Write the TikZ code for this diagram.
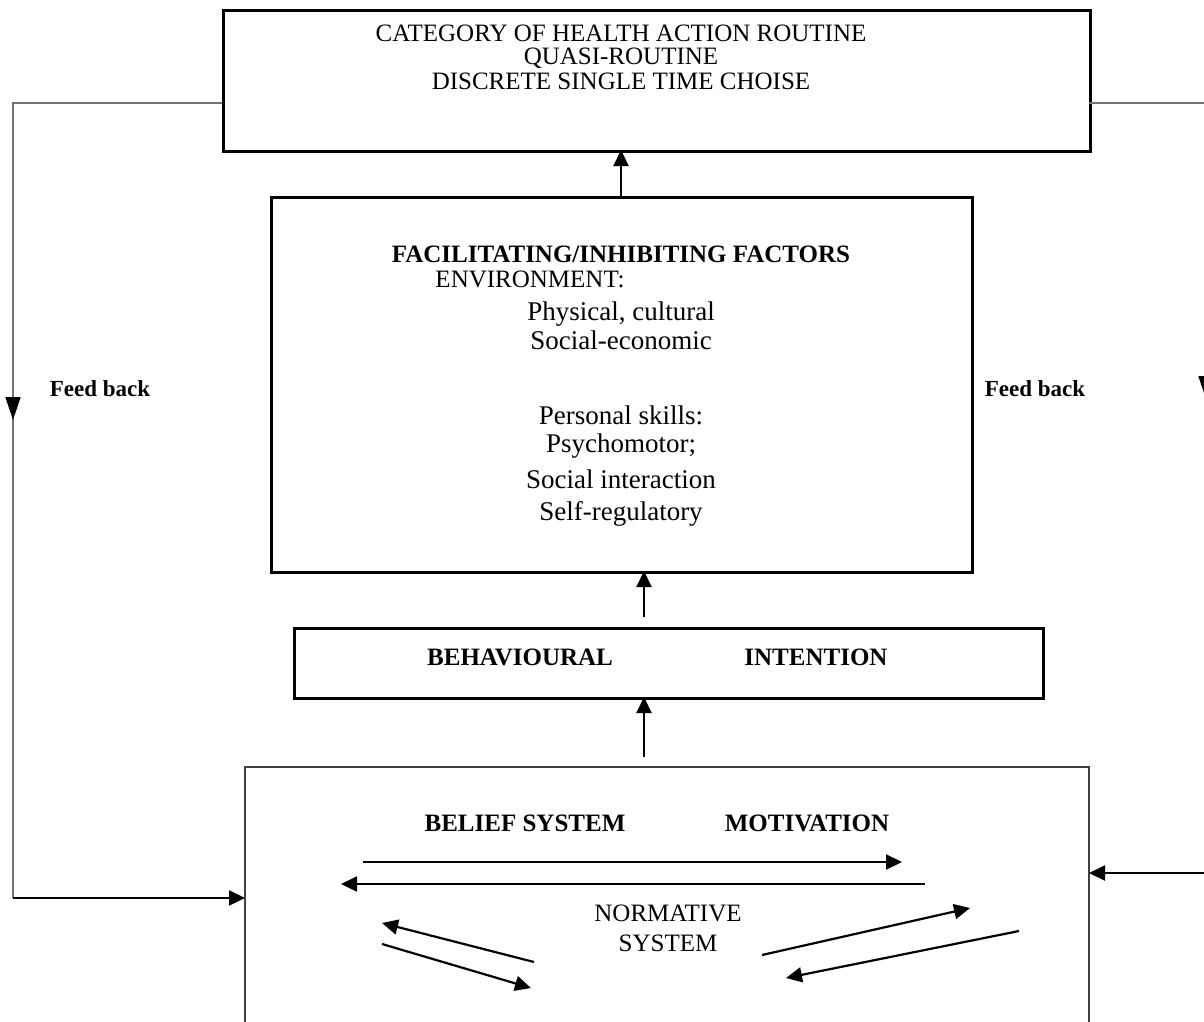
\documentclass[tikz,border=0pt]{standalone}
\usepackage{fontspec}
\setmainfont{Liberation Serif}
\usetikzlibrary{arrows.meta}
\begin{document}
\begin{tikzpicture}[x=1pt,y=-1pt,
  thickbox/.style={draw=black,line width=2.8pt,inner sep=0pt,anchor=north west},
  thinbox/.style={draw=black!75,line width=1.1pt},
  fbline/.style={draw=black!55,line width=1.6pt},
  arr/.style={draw=black,line width=2.2pt,-{Triangle[length=16pt,width=15pt]}},
  midarr/.style={draw=black!55,line width=1.6pt,-{Triangle[length=23pt,width=15pt,color=black]}},
  txt/.style={inner sep=0pt,font=\fontsize{25}{30}\selectfont},
  btxt/.style={inner sep=0pt,font=\fontsize{25}{30}\selectfont\bfseries},
  ltxt/.style={inner sep=0pt,font=\fontsize{27}{32}\selectfont},
  fbtxt/.style={inner sep=0pt,font=\fontsize{23}{28}\selectfont\bfseries}]
\useasboundingbox (0,0) rectangle (1204,1022);
% boxes
\node[thickbox,minimum width=867pt,minimum height=141pt] (top) at (222,9) {};
\node[thickbox,minimum width=701pt,minimum height=375pt] (mid) at (270,196) {};
\node[thickbox,minimum width=749pt,minimum height=70pt] (beh) at (293,627) {};
\draw[thinbox] (245,1040) -- (245,767) coordinate (botNW) -- (1089,767) coordinate (botNE) -- (1089,1040);
% top texts
\node[txt] (t1) at (621,33) {CATEGORY OF HEALTH ACTION ROUTINE};
\node[txt] (t2) at (621,58) {QUASI-ROUTINE};
\node[txt] (t3) at (621,81) {DISCRETE SINGLE TIME CHOISE};
% middle texts
\node[btxt] (m1) at (621,254) {FACILITATING/INHIBITING FACTORS};
\node[txt] (m2) at (530,279) {ENVIRONMENT:};
\node[ltxt] (m3) at (621,314) {Physical, cultural};
\node[ltxt] (m4) at (621,340) {Social-economic};
\node[ltxt] (m5) at (621,415) {Personal skills:};
\node[ltxt] (m6) at (621,446) {Psychomotor;};
\node[ltxt] (m7) at (621,479) {Social interaction};
\node[ltxt] (m8) at (621,514) {Self-regulatory};
% behavioural
\node[btxt] (b1) at (520,657) {BEHAVIOURAL};
\node[btxt] (b2) at (816,657) {INTENTION};
% bottom
\node[btxt] (s1) at (525,823) {BELIEF SYSTEM};
\node[btxt] (s2) at (807,823) {MOTIVATION};
\node[txt] (s3) at (668,913) {NORMATIVE};
\node[txt] (s4) at (668,943) {SYSTEM};
% feed back labels
\node[fbtxt] (f1) at (100,389) {Feed back};
\node[fbtxt] (f2) at (1035,389) {Feed back};
% vertical arrows
\draw[arr] (621,196) -- (621,150);
\draw[arr] (644,617) -- (644,571);
\draw[arr] (644,757) -- (644,697);
% internal arrows
\coordinate (a1s) at (363,862); \coordinate (a1e) at (902,862);
\coordinate (a2s) at (925,884); \coordinate (a2e) at (341,884);
\coordinate (a3s) at (534,962); \coordinate (a3e) at (382,923);
\coordinate (a4s) at (382,944); \coordinate (a4e) at (531,988);
\coordinate (a5s) at (762,955); \coordinate (a5e) at (970,908);
\coordinate (a6s) at (1019,931); \coordinate (a6e) at (786,978);
\foreach \i in {1,...,6} {\draw[arr] (a\i s) -- (a\i e);}
% feedback left
\coordinate (fl1) at (222,103);
\coordinate (fl2) at (13,103);
\coordinate (fl3) at (13,898);
\coordinate (fl4) at (245,898);
\draw[fbline] (fl1) -- (fl2) -- (fl3);
\draw[arr] (fl3) -- (fl4);
\draw[midarr] (13,380) -- (13,420);
% feedback right
\coordinate (fr1) at (1089,103);
\coordinate (fr2) at (1206,103);
\coordinate (fr3) at (1206,873);
\coordinate (fr4) at (1089,873);
\draw[fbline] (fr1) -- (fr2) -- (fr3);
\draw[arr] (1220,873) -- (fr4);
\draw[midarr] (1206,370) -- (1206,399);
\end{tikzpicture}
\end{document}
